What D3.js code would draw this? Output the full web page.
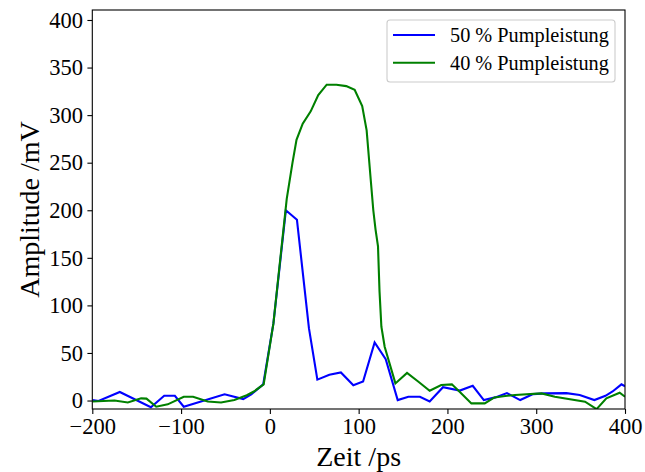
<!DOCTYPE html>
<html>
<head>
<meta charset="utf-8">
<script src="https://cdn.jsdelivr.net/npm/d3@7"></script>
<style>
  html, body { margin: 0; padding: 0; background: #fff; }
  svg { display: block; }
  text { font-family: "Liberation Serif", "Times New Roman", serif; fill: #000; }
</style>
</head>
<body>
<svg id="chart" width="645" height="472"></svg>
<script>
// ---- data ----
const seriesNames = ["50 % Pumpleistung", "40 % Pumpleistung"];
const seriesColors = ["#0000ff", "#008000"];

const blueT = [-200,-193,-169,-134,-119,-107,-97,-51,-30,-21,-7.5,4,18,30.5,44,53.5,67,80,94,105,118,130.5,144,156,169,180,195,214,228.5,241,254,267,282,296.5,310,334,349,365.5,378,386,396,400];
const blueV = [0.5,-0.5,9,-7,5,5,-6.5,6.5,1.5,6.5,17,81,200,190,76,22,27,29.5,16,20,61,43.5,0.5,4,4,-1,14,10.5,15.5,0.5,3.3,7.8,0.5,6.7,7.5,7.8,5.8,0.5,5,9.5,17,15];

const greenT = [-200,-175,-160,-145,-139,-128,-115,-97,-86.5,-70,-55,-40,-26,-18,-7,4,13,19,25.5,30,37,46,54.5,64,75,86,95.5,104,109,113.7,116.5,119,121.8,123.5,125.6,129.3,141.4,154.5,167,180,193,205,214,227,242,253,265,276,306,321,355,368,379,394,400];
const greenV = [-1,0,-2,2.3,2,-6.5,-4,4,4,-1,-2,0.5,5.5,9.5,17,81,160,212,250,274,291,304,321,332,332,330.5,326.5,309.5,284,231,200,180,162,115,77.6,56.6,18,29,20,10.3,16.3,17,9,-3,-3,3.3,4.7,5.8,7.5,4,-1.2,-9,2.3,8.2,4];

const xTicks = [-200,-100,0,100,200,300,400];
const yTicks = [0,50,100,150,200,250,300,350,400];

// ---- layout ----
const svg = d3.select("#chart");
const L = 92.3, R = 625, T = 10, B = 409;
const x = d3.scaleLinear().domain([-200, 400]).range([L, R]);
const y = d3.scaleLinear().domain([-8.9, 410.5]).range([B, T]);

const series = [
  {name: seriesNames[0], color: seriesColors[0], pts: blueT.map((t,i)=>[t, blueV[i]])},
  {name: seriesNames[1], color: seriesColors[1], pts: greenT.map((t,i)=>[t, greenV[i]])}
];

const line = d3.line().x(d=>x(d[0])).y(d=>y(d[1]));

const plot = svg.append("g");
plot.append("defs").append("clipPath").attr("id","clip")
  .append("rect").attr("x",L).attr("y",T).attr("width",R-L).attr("height",B-T);

const lines = plot.append("g").attr("clip-path","url(#clip)");
series.forEach(s => {
  lines.append("path").datum(s.pts)
    .attr("d", line).attr("fill","none")
    .attr("stroke", s.color).attr("stroke-width", 2.1)
    .attr("stroke-linejoin","miter").attr("stroke-linecap","butt");
});

// axes
const fmt = d => d < 0 ? "\u2212" + Math.abs(d) : String(d);
const xAxis = d3.axisBottom(x).tickValues(xTicks).tickFormat(fmt).tickSize(4.9).tickPadding(4.5);
const yAxis = d3.axisLeft(y).tickValues(yTicks).tickFormat(fmt).tickSize(4.9).tickPadding(4.5);

const gx = svg.append("g").attr("transform", `translate(0,${B})`).call(xAxis);
const gy = svg.append("g").attr("transform", `translate(${L},0)`).call(yAxis);
[gx, gy].forEach(g => {
  g.attr("font-family", null);
  g.select(".domain").remove();
  g.selectAll(".tick line").attr("stroke","#000").attr("stroke-width",1.1);
  g.selectAll(".tick text").attr("font-size", 22.5)
    .style("font-family", '"Liberation Serif", "Times New Roman", serif').attr("fill","#000");
});

// frame
svg.append("rect").attr("x",L).attr("y",T).attr("width",R-L).attr("height",B-T)
  .attr("fill","none").attr("stroke","#000").attr("stroke-width",1.1);

// axis labels
svg.append("text").attr("x",(L+R)/2).attr("y",466).attr("text-anchor","middle")
  .attr("font-size",28).text("Zeit /ps");
svg.append("text").attr("transform",`translate(39,${(T+B)/2}) rotate(-90)`)
  .attr("text-anchor","middle").attr("font-size",28).text("Amplitude /mV");

// legend
const lg = svg.append("g");
lg.append("rect").attr("x",387).attr("y",20).attr("width",228).attr("height",62)
  .attr("rx",3).attr("fill","#fff").attr("fill-opacity",0.8)
  .attr("stroke","#cccccc").attr("stroke-width",1.1);
series.forEach((s,i) => {
  const yy = 35 + i*27.7;
  lg.append("line").attr("x1",393).attr("x2",435).attr("y1",yy).attr("y2",yy)
    .attr("stroke",s.color).attr("stroke-width",2.1);
  lg.append("text").attr("x",450).attr("y",yy+6.8).attr("font-size",20.3).text(s.name);
});
</script>
</body>
</html>
